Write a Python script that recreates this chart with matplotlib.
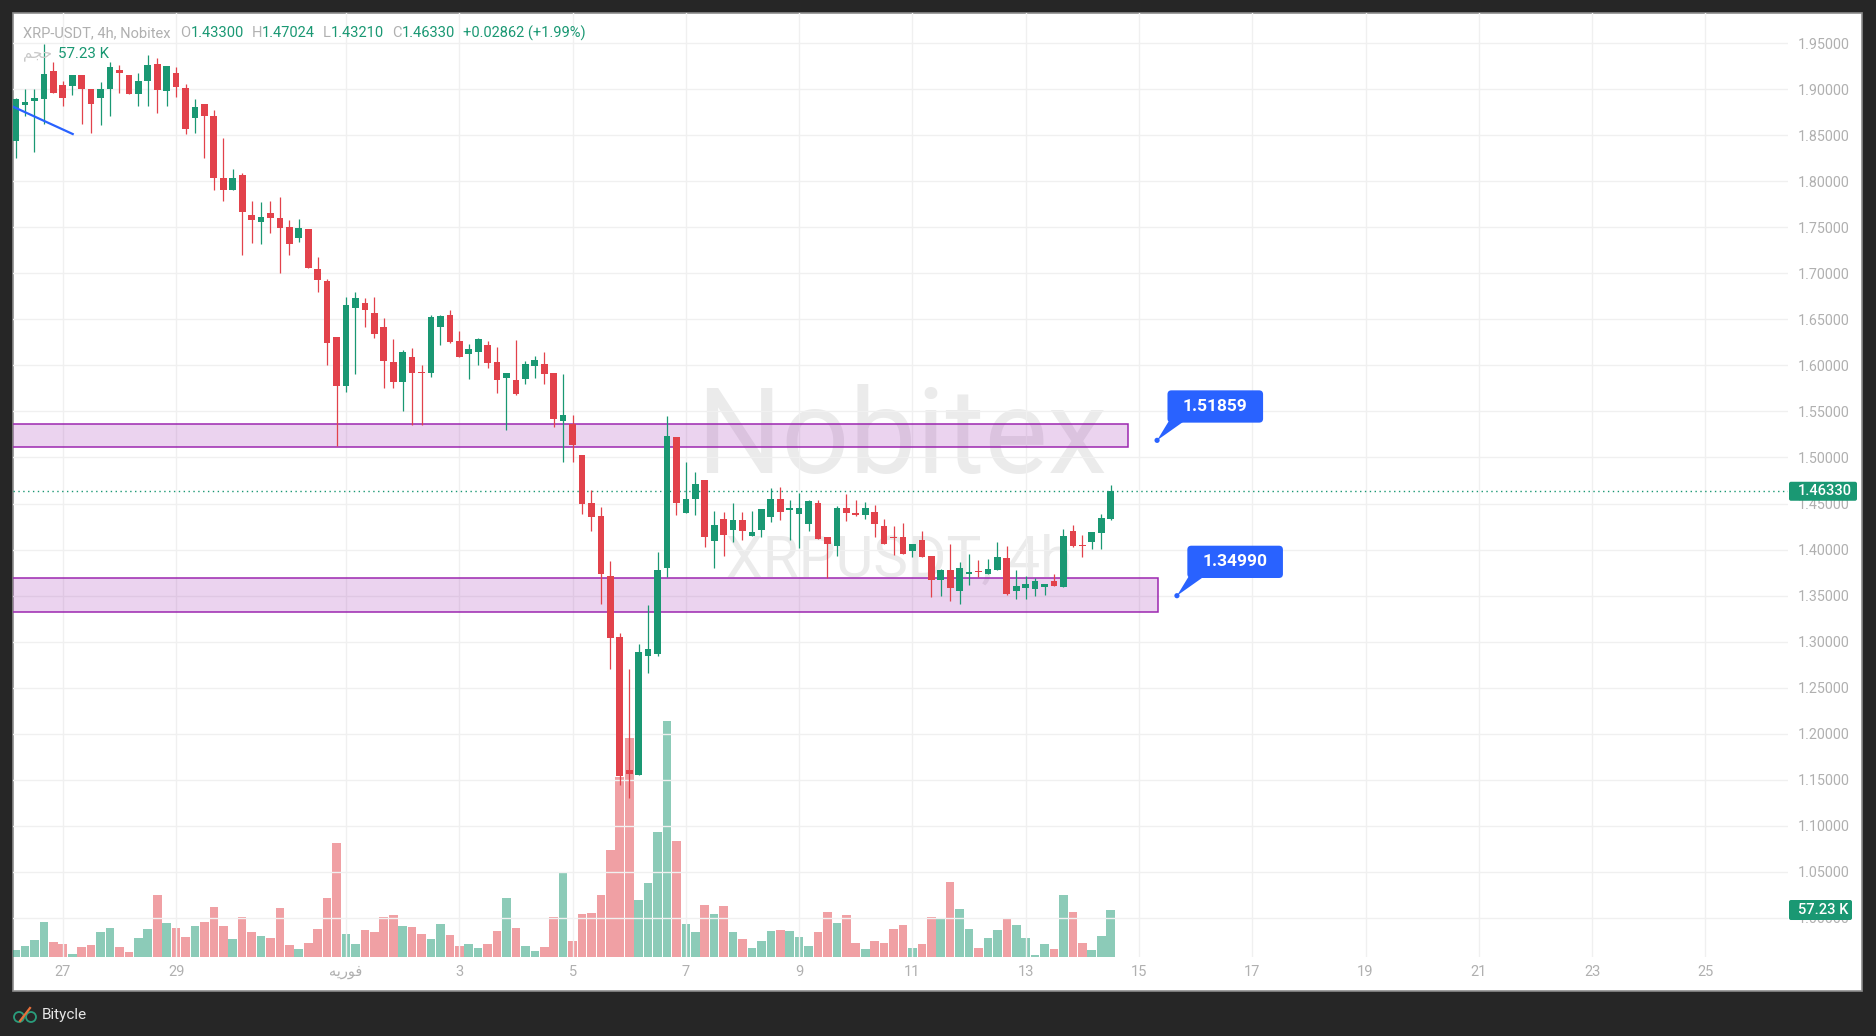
import numpy as np
import pandas as pd
import matplotlib
matplotlib.use("Agg")
import matplotlib.pyplot as plt
import matplotlib.dates as mdates
from matplotlib.colors import to_rgba
from matplotlib.patches import Rectangle, FancyBboxPatch, Polygon, Circle
from matplotlib.lines import Line2D
from matplotlib.ticker import FormatStrFormatter
from matplotlib.transforms import IdentityTransform

W, H = 1876, 1036
FONT = ['Roboto', 'DejaVu Sans']
plt.rcParams['font.family'] = FONT

UP = '#1a9873'
DOWN = '#e2424b'
BLUE = '#2962ff'
PURPLE = '#9c27b0'
AXIS_TXT = '#b0b0b0'
GRID = '#f0f0f0'
DARK = '#262626'

# ---- XRP-USDT 4h candles (Nobitex) ----
first_open = '2026-01-26 04:00'
open_ = [1.8431, 1.8826, 1.8866, 1.8895, 1.9199, 1.9043, 1.9036, 1.9156, 1.8996, 1.8899,
         1.8996, 1.9210, 1.9156, 1.8942, 1.9083, 1.9275, 1.8975, 1.9178, 1.9014, 1.8681,
         1.8841, 1.8710, 1.8036, 1.7899, 1.8069, 1.7634, 1.7562, 1.7656, 1.7601, 1.7504,
         1.7379, 1.7484, 1.7049, 1.6918, 1.6308, 1.5778, 1.6627, 1.6678, 1.6569, 1.6417,
         1.6036, 1.5821, 1.6090, 1.5930, 1.5919, 1.6420, 1.6548, 1.6264, 1.6126, 1.6148,
         1.6221, 1.6036, 1.5865, 1.5840, 1.5854, 1.5996, 1.6014, 1.5919, 1.5397, 1.5366,
         1.5028, 1.4502, 1.4364, 1.3710, 1.3046, 1.1609, 1.1547, 1.2843, 1.2865, 1.3801,
         1.5224, 1.4400, 1.4553, 1.4756, 1.4095, 1.4330, 1.4214, 1.4319, 1.4149, 1.4214,
         1.4355, 1.4547, 1.4431, 1.4388, 1.4279, 1.4504, 1.4134, 1.4040, 1.4449, 1.4395,
         1.4377, 1.4406, 1.4254, 1.4134, 1.4134, 1.3986, 1.4101, 1.3928, 1.3670, 1.3775,
         1.3551, 1.3736, 1.3768, 1.3736, 1.3779, 1.3906, 1.3551, 1.3583, 1.3573, 1.3594,
         1.3656, 1.3594, 1.4199, 1.4047, 1.4083, 1.4181, 1.4330]
high = [1.8900, 1.9000, 1.9000, 1.9493, 1.9297, 1.9091, 1.9156, 1.9156, 1.8996, 1.9080,
        1.9293, 1.9264, 1.9156, 1.9178, 1.9373, 1.9341, 1.9254, 1.9243, 1.9058, 1.8895,
        1.8841, 1.8775, 1.8471, 1.8134, 1.8091, 1.7786, 1.7775, 1.7786, 1.7833, 1.7580,
        1.7593, 1.7484, 1.7179, 1.6943, 1.6308, 1.6744, 1.6798, 1.6733, 1.6744, 1.6515,
        1.6286, 1.6166, 1.6188, 1.6003, 1.6548, 1.6548, 1.6602, 1.6373, 1.6232, 1.6297,
        1.6264, 1.6199, 1.5916, 1.6275, 1.6047, 1.6101, 1.6145, 1.5919, 1.5909, 1.5464,
        1.5028, 1.4647, 1.4462, 1.3874, 1.3090, 1.2698, 1.2970, 1.3395, 1.3972, 1.5453,
        1.5224, 1.4952, 1.4843, 1.4756, 1.4418, 1.4406, 1.4504, 1.4406, 1.4417, 1.4438,
        1.4667, 1.4678, 1.4536, 1.4612, 1.4536, 1.4536, 1.4134, 1.4471, 1.4601, 1.4536,
        1.4514, 1.4482, 1.4330, 1.4254, 1.4286, 1.4058, 1.4199, 1.3928, 1.3786, 1.4058,
        1.3862, 1.3949, 1.3884, 1.3895, 1.4080, 1.4036, 1.3775, 1.3710, 1.3692, 1.3623,
        1.3732, 1.4221, 1.4264, 1.4156, 1.4188, 1.4384, 1.47024]
low = [1.8250, 1.8703, 1.8312, 1.8620, 1.8953, 1.8812, 1.8935, 1.8616, 1.8518, 1.8605,
       1.8703, 1.8953, 1.8942, 1.8812, 1.8812, 1.8736, 1.8812, 1.8909, 1.8507, 1.8518,
       1.8257, 1.7909, 1.7790, 1.7899, 1.7203, 1.7333, 1.7323, 1.7442, 1.7007, 1.7203,
       1.7336, 1.7052, 1.6802, 1.6007, 1.5121, 1.5712, 1.5909, 1.6420, 1.6301, 1.5756,
       1.5756, 1.5506, 1.5349, 1.5349, 1.5876, 1.6224, 1.6246, 1.6094, 1.5854, 1.6007,
       1.5974, 1.5702, 1.5299, 1.5680, 1.5800, 1.5865, 1.5800, 1.5331, 1.4950, 1.4956,
       1.4389, 1.4204, 1.3409, 1.2701, 1.1449, 1.1300, 1.1547, 1.2658, 1.2843, 1.3699,
       1.4378, 1.4400, 1.4378, 1.4030, 1.3801, 1.3931, 1.4083, 1.4101, 1.4149, 1.4138,
       1.4301, 1.4322, 1.4105, 1.4018, 1.4203, 1.4116, 1.3692, 1.3931, 1.4312, 1.4362,
       1.4333, 1.4138, 1.4062, 1.3942, 1.3953, 1.3920, 1.3920, 1.3486, 1.3496, 1.3442,
       1.3409, 1.3616, 1.3703, 1.3736, 1.3779, 1.3507, 1.3464, 1.3464, 1.3496, 1.3507,
       1.3605, 1.3594, 1.4029, 1.3920, 1.4007, 1.4007, 1.43210]
close = [1.8895, 1.8862, 1.8906, 1.9167, 1.8953, 1.8899, 1.9156, 1.8996, 1.8833, 1.8996,
         1.9243, 1.9170, 1.8942, 1.9091, 1.9264, 1.8986, 1.9254, 1.9018, 1.8562, 1.8808,
         1.8710, 1.8029, 1.7899, 1.8036, 1.7670, 1.7583, 1.7612, 1.7605, 1.7496, 1.7323,
         1.7495, 1.7052, 1.6922, 1.6246, 1.5778, 1.6657, 1.6733, 1.6606, 1.6344, 1.6050,
         1.5821, 1.6145, 1.5919, 1.5919, 1.6526, 1.6537, 1.6253, 1.6094, 1.6177, 1.6286,
         1.6028, 1.5843, 1.5916, 1.5691, 1.6014, 1.6057, 1.5909, 1.5418, 1.5458, 1.5137,
         1.4498, 1.4357, 1.3736, 1.3039, 1.1536, 1.1561, 1.2883, 1.2915, 1.3776, 1.5235,
         1.4509, 1.4549, 1.4712, 1.4139, 1.4266, 1.4159, 1.4319, 1.4203, 1.4188, 1.4438,
         1.4547, 1.4409, 1.4446, 1.4449, 1.4525, 1.4116, 1.4062, 1.4449, 1.4399, 1.4377,
         1.4449, 1.4279, 1.4062, 1.4127, 1.3953, 1.4058, 1.3920, 1.3670, 1.3775, 1.3583,
         1.3797, 1.3754, 1.3761, 1.3786, 1.3917, 1.3518, 1.3601, 1.3623, 1.3656, 1.3623,
         1.3605, 1.4145, 1.4040, 1.4040, 1.4188, 1.43468, 1.46330]
# volume in thousands
volume_k = [8.5, 13.4, 20.7, 42.6, 18.3, 15.8, 3.7, 12.2, 14.6, 30.4,
            35.3, 12.2, 6.1, 23.1, 34.1, 75.5, 41.4, 35.3, 24.4, 37.7,
            42.6, 60.9, 37.7, 21.9, 48.7, 30.4, 25.6, 23.1, 59.7, 14.6,
            9.7, 17.0, 34.1, 71.8, 138.8, 28.0, 15.8, 32.9, 30.4, 48.7,
            51.1, 37.7, 36.5, 28.0, 21.9, 40.2, 26.8, 13.4, 15.8, 11.0,
            15.8, 31.7, 71.8, 35.3, 13.4, 7.3, 12.2, 48.7, 103.5, 19.5,
            52.4, 53.6, 75.5, 130.3, 219.2, 266.7, 69.4, 90.1, 152.2, 287.4,
            141.3, 40.2, 30.4, 63.3, 52.4, 62.1, 30.4, 21.9, 11.0, 19.5,
            31.7, 32.9, 31.7, 24.4, 13.4, 30.4, 54.8, 41.4, 51.1, 17.0,
            9.7, 19.5, 17.0, 34.1, 39.0, 11.0, 15.8, 48.7, 46.3, 91.3,
            58.4, 34.1, 11.0, 23.1, 32.9, 46.3, 39.0, 23.1, 2.4, 15.8,
            9.7, 75.5, 54.8, 17.0, 8.5, 25.6, 57.23]

# drawn support / resistance zones
zone_low = [1.5117, 1.3325]
zone_high = [1.5360, 1.3694]
zone_end = ['2026-02-14 19:30', '2026-02-15 08:00']

# price callouts
callout_price = [1.51859, 1.34990]
callout_time = ['2026-02-15 07:40', '2026-02-15 16:05']

# short blue trend line top-left
trend_time = ['2026-01-26 00:00', '2026-01-27 04:12']
trend_price = [1.8843, 1.8512]

tick_dates = ['2026-01-27', '2026-01-29', '2026-02-01', '2026-02-03', '2026-02-05',
              '2026-02-07', '2026-02-09', '2026-02-11', '2026-02-13', '2026-02-15',
              '2026-02-17', '2026-02-19', '2026-02-21', '2026-02-23', '2026-02-25']
# "فوريه" written in shaped (presentation) forms, visual order
FEB = '\ufeea\ufef3\ufead\ufeee\ufed3'
tick_labels = ['27', '29', FEB, '3', '5', '7', '9', '11', '13', '15', '17', '19', '21', '23', '25']
VOL_WORD = '\ufee2\ufea0\ufea3'  # "حجم"

price_ticks = np.round(np.arange(1.00, 1.951, 0.05), 2)

# ---------------------------------------------------------------
o = np.array(open_)
h = np.array(high)
l = np.array(low)
c = np.array(close)
v = np.array(volume_k)
times = pd.date_range(first_open, periods=len(c), freq='4h')
x = mdates.date2num(times)
up = c >= o
colors = np.where(up, UP, DOWN)

fig = plt.figure(figsize=(W / 100, H / 100), dpi=100, facecolor=DARK)

# white chart panel
panel = Rectangle((13 / W, 1 - 991 / H), (1862 - 13) / W, (991 - 13) / H,
                  transform=fig.transFigure, facecolor='white', edgecolor='#8c8c8c',
                  linewidth=1.2, zorder=-1)
fig.add_artist(panel)

ax = fig.add_axes([13 / W, 1 - 957 / H, (1788 - 13) / W, (957 - 13) / H])
ax2 = ax.twinx()
ax.set_zorder(2)
ax2.set_zorder(1)
ax.patch.set_visible(False)

ax.set_xlim(mdates.date2num(pd.Timestamp('2026-01-26 02:54')),
            mdates.date2num(pd.Timestamp('2026-02-26 11:00')))
ax.set_ylim(0.9576, 1.9826)

# volume pane (tallest bar at a quarter of the height)
ax2.bar(x, v, width=0.152, color=colors, alpha=0.5, linewidth=0)
ax2.set_ylim(0, v.max() * 4.0)
ax2.set_yticks([])
for sp in ax2.spines.values():
    sp.set_visible(False)

# grid / ticks
ax.set_axisbelow(True)
ax.grid(True, color=GRID, linewidth=1.0)
ax.set_yticks(price_ticks)
ax.yaxis.set_major_formatter(FormatStrFormatter('%.5f'))
ax.yaxis.tick_right()
ax.tick_params(axis='y', length=0, pad=7, labelsize=10.3, labelcolor=AXIS_TXT,
               right=False, labelright=True, labelleft=False)
ax.set_xticks(mdates.date2num(pd.to_datetime(tick_dates)))
ax.set_xticklabels(tick_labels)
ax.tick_params(axis='x', length=0, pad=6, labelsize=10.5, labelcolor=AXIS_TXT)
for sp in ax.spines.values():
    sp.set_visible(False)

# watermark
ax.text(0.5008, 0.5131, 'Nobitex', transform=ax.transAxes, ha='center', va='baseline',
        fontsize=86, color='#ebebeb', zorder=0.5)
ax.text(0.4990, 0.4029, 'XRPUSDT, 4h', transform=ax.transAxes, ha='center', va='baseline',
        fontsize=42, color='#ebebeb', zorder=0.5)

# zones
xl = ax.get_xlim()[0] - 3
for lo, hi, end in zip(zone_low, zone_high, zone_end):
    xe = mdates.date2num(pd.Timestamp(end))
    ax.add_patch(Rectangle((xl, lo), xe - xl, hi - lo, facecolor=to_rgba(PURPLE, 0.2),
                           edgecolor=PURPLE, linewidth=1.1, zorder=2))

# trend line
ax.plot(mdates.date2num(pd.to_datetime(trend_time)), trend_price, color=BLUE, lw=1.6, zorder=5)

# candles
ax.vlines(x, l, h, colors=colors, linewidth=0.9, zorder=3)
body_h = np.maximum(np.abs(c - o), 0.0008)
ax.bar(x, body_h, bottom=np.minimum(o, c), width=0.118, color=colors, linewidth=0, zorder=4)

# last price line
ax.axhline(c[-1], color=UP, linestyle=(0, (1, 2.5)), linewidth=1.0, zorder=2.5)

ID = IdentityTransform()


def tag(x0, yc, w, hgt, text, fc):
    fig.add_artist(FancyBboxPatch((x0, yc - hgt / 2), w, hgt, boxstyle='round,pad=0,rounding_size=2',
                                  facecolor=fc, edgecolor='none', transform=ID, zorder=6))
    fig.text(x0 + 9, yc, text, transform=ID, ha='left', va='center', color='white',
             fontsize=10.5, fontweight='medium', zorder=7)


y_last = ax.transData.transform((x[-1], c[-1]))[1]
tag(1789, y_last, 68, 19, f'{c[-1]:.5f}', UP)
y_vol = ax2.transData.transform((x[-1], v[-1]))[1]
tag(1789, y_vol, 63, 20, f'{v[-1]:.2f} K', UP)

# price callouts
for t, p in zip(callout_time, callout_price):
    dx, dy = ax.transData.transform((mdates.date2num(pd.Timestamp(t)), p))
    left, bottom, bw, bh = dx + 10.4, dy + 17.7, 95.6, 32.3
    fig.add_artist(Polygon([(left + 1, bottom + 1), (left + 16, bottom + 1), (dx, dy)],
                           closed=True, facecolor=BLUE, edgecolor='none', transform=ID, zorder=6))
    fig.add_artist(FancyBboxPatch((left, bottom), bw, bh, boxstyle='round,pad=0,rounding_size=4',
                                  facecolor=BLUE, edgecolor='none', transform=ID, zorder=6))
    fig.add_artist(Circle((dx, dy), 2.6, facecolor=BLUE, edgecolor='none', transform=ID, zorder=6))
    fig.text(left + bw / 2, bottom + bh / 2, f'{p:.5f}', transform=ID, ha='center', va='center',
             color='white', fontsize=12.5, fontweight='bold', zorder=7)

# legend header
renderer = fig.canvas.get_renderer()


def chain(x0, y_img, parts, size):
    xx = x0
    for s, col, gap in parts:
        t = fig.text(xx, H - y_img, s, transform=ID, ha='left', va='center', color=col,
                     fontsize=size, zorder=7)
        xx += t.get_window_extent(renderer=renderer).width + gap


chg = c[-1] - c[-2]
chain(23, 33, [('XRP-USDT, 4h, Nobitex', AXIS_TXT, 10),
               ('O', AXIS_TXT, 0), (f'{o[-1]:.5f}', UP, 8),
               ('H', AXIS_TXT, 0), (f'{h[-1]:.5f}', UP, 8),
               ('L', AXIS_TXT, 0), (f'{l[-1]:.5f}', UP, 8),
               ('C', AXIS_TXT, 0), (f'{c[-1]:.5f}', UP, 8),
               (f'+{chg:.5f} (+{chg / c[-2] * 100:.2f}%)', UP, 0)], 10.5)
chain(23, 54, [(VOL_WORD, '#c8c8c8', 6), (f'{v[-1]:.2f} K', UP, 0)], 10.8)

# footer logo
fig.add_artist(Circle((19, H - 1017), 5, facecolor='none', edgecolor='#2a9d7c', lw=1.3, transform=ID))
fig.add_artist(Circle((31, H - 1017), 5, facecolor='none', edgecolor='#2a9d7c', lw=1.3, transform=ID))
fig.add_artist(Line2D([20, 30], [H - 1021, H - 1008], color='#e8703a', lw=1.6, transform=ID))
fig.text(42, H - 1015, 'Bitycle', transform=ID, ha='left', va='center', color='#e6e6e6', fontsize=11)

fig.savefig('out.png', dpi=100, facecolor=DARK)
